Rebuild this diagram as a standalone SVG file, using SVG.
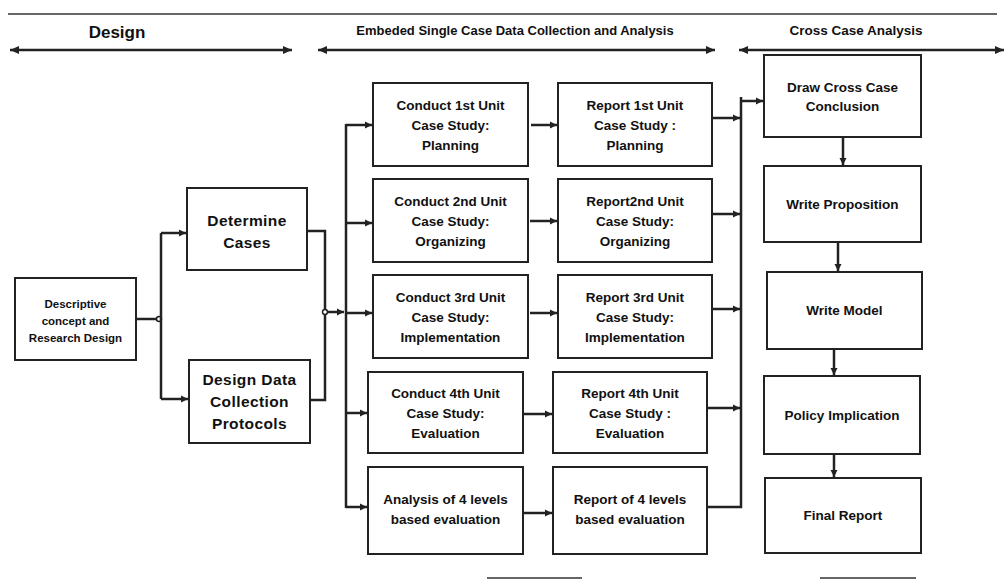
<svg xmlns="http://www.w3.org/2000/svg" width="1007" height="583" viewBox="0 0 1007 583">
<style>
.box{fill:#fff;stroke:#222;stroke-width:2}
.t{font-family:"Liberation Sans",Arial,sans-serif;font-weight:bold;fill:#111;text-anchor:middle}
.s11{font-size:11.5px}
.s15{font-size:15.5px;letter-spacing:0.4px}
.s13{font-size:13.5px}
.hd{font-family:"Liberation Sans",Arial,sans-serif;font-weight:bold;fill:#111;text-anchor:middle}
.ln{fill:none;stroke:#222;stroke-width:2.5}
.arr{fill:none;stroke:#222;stroke-width:2.5;marker-end:url(#ah)}
.harr{fill:none;stroke:#222;stroke-width:2.5;marker-start:url(#ah2);marker-end:url(#ah2)}
</style>
<defs>
<marker id="ah" markerWidth="8" markerHeight="8" refX="7" refY="4" orient="auto" markerUnits="userSpaceOnUse">
<path d="M0,0.5 L7,4 L0,7.5 z" fill="#222"/>
</marker>
<marker id="ah2" markerWidth="10" markerHeight="10" refX="9" refY="5" orient="auto-start-reverse" markerUnits="userSpaceOnUse">
<path d="M0,1 L9,5 L0,9 z" fill="#222"/>
</marker>
</defs>
<rect width="1007" height="583" fill="#fff"/>

<g id="header">
<line x1="8" y1="14" x2="997" y2="14" stroke="#333" stroke-width="1.5"/>
<text class="hd" x="117" y="38" font-size="17">Design</text>
<text class="hd" x="515" y="35" font-size="13">Embeded Single Case Data Collection and Analysis</text>
<text class="hd" x="856" y="35" font-size="13.5">Cross Case Analysis</text>
<line class="harr" x1="10" y1="50" x2="292" y2="50"/>
<line class="harr" x1="318" y1="50" x2="715" y2="50"/>
<line class="harr" x1="739" y1="50" x2="1004" y2="50"/>
</g>

<g id="n-descriptive">
<rect class="box" x="15" y="278" width="121" height="82"/>
<text class="t s11" x="75.5" y="308"><tspan x="75.5">Descriptive</tspan><tspan x="75.5" dy="17">concept and</tspan><tspan x="75.5" dy="17">Research Design</tspan></text>
</g>
<g id="n-determine">
<rect class="box" x="187" y="188" width="120" height="82"/>
<text class="t s15" x="247" y="226"><tspan x="247">Determine</tspan><tspan x="247" dy="22">Cases</tspan></text>
</g>
<g id="n-protocols">
<rect class="box" x="189" y="360" width="121" height="83"/>
<text class="t s15" x="249.5" y="385"><tspan x="249.5">Design Data</tspan><tspan x="249.5" dy="22">Collection</tspan><tspan x="249.5" dy="22">Protocols</tspan></text>
</g>

<g id="n-c1">
<rect class="box" x="373" y="83" width="155" height="83"/>
<text class="t s13" x="450.5" y="110"><tspan x="450.5">Conduct 1st Unit</tspan><tspan x="450.5" dy="20">Case Study:</tspan><tspan x="450.5" dy="20">Planning</tspan></text>
</g>
<g id="n-r1">
<rect class="box" x="558" y="83" width="154" height="83"/>
<text class="t s13" x="635" y="110"><tspan x="635">Report  1st Unit</tspan><tspan x="635" dy="20">Case Study :</tspan><tspan x="635" dy="20">Planning</tspan></text>
</g>
<g id="n-c2">
<rect class="box" x="373" y="179" width="155" height="83"/>
<text class="t s13" x="450.5" y="206"><tspan x="450.5">Conduct 2nd Unit</tspan><tspan x="450.5" dy="20">Case Study:</tspan><tspan x="450.5" dy="20">Organizing</tspan></text>
</g>
<g id="n-r2">
<rect class="box" x="558" y="179" width="154" height="83"/>
<text class="t s13" x="635" y="206"><tspan x="635">Report2nd Unit</tspan><tspan x="635" dy="20">Case Study:</tspan><tspan x="635" dy="20">Organizing</tspan></text>
</g>
<g id="n-c3">
<rect class="box" x="373" y="275" width="155" height="83"/>
<text class="t s13" x="450.5" y="302"><tspan x="450.5">Conduct 3rd Unit</tspan><tspan x="450.5" dy="20">Case Study:</tspan><tspan x="450.5" dy="20">Implementation</tspan></text>
</g>
<g id="n-r3">
<rect class="box" x="558" y="275" width="154" height="83"/>
<text class="t s13" x="635" y="302"><tspan x="635">Report 3rd Unit</tspan><tspan x="635" dy="20">Case Study:</tspan><tspan x="635" dy="20">Implementation</tspan></text>
</g>
<g id="n-c4">
<rect class="box" x="368" y="372" width="155" height="81"/>
<text class="t s13" x="445.5" y="398"><tspan x="445.5">Conduct 4th  Unit</tspan><tspan x="445.5" dy="20">Case Study:</tspan><tspan x="445.5" dy="20">Evaluation</tspan></text>
</g>
<g id="n-r4">
<rect class="box" x="553" y="372" width="154" height="81"/>
<text class="t s13" x="630" y="398"><tspan x="630">Report 4th Unit</tspan><tspan x="630" dy="20">Case Study :</tspan><tspan x="630" dy="20">Evaluation</tspan></text>
</g>
<g id="n-c5">
<rect class="box" x="368" y="467" width="155" height="87"/>
<text class="t s13" x="445.5" y="504"><tspan x="445.5">Analysis of 4 levels</tspan><tspan x="445.5" dy="20">based evaluation</tspan></text>
</g>
<g id="n-r5">
<rect class="box" x="553" y="467" width="154" height="87"/>
<text class="t s13" x="630" y="504"><tspan x="630">Report of 4 levels</tspan><tspan x="630" dy="20">based evaluation</tspan></text>
</g>

<g id="n-cross">
<rect class="box" x="764" y="55" width="157" height="82"/>
<text class="t s13" x="842.5" y="92"><tspan x="842.5">Draw Cross Case</tspan><tspan x="842.5" dy="19">Conclusion</tspan></text>
</g>
<g id="n-prop">
<rect class="box" x="764" y="166" width="157" height="76"/>
<text class="t s13" x="842.5" y="209">Write Proposition</text>
</g>
<g id="n-model">
<rect class="box" x="767" y="272" width="155" height="77"/>
<text class="t s13" x="844.5" y="315">Write Model</text>
</g>
<g id="n-policy">
<rect class="box" x="764" y="376" width="156" height="78"/>
<text class="t s13" x="842" y="420">Policy Implication</text>
</g>
<g id="n-final">
<rect class="box" x="765" y="478" width="156" height="75"/>
<text class="t s13" x="843" y="520">Final Report</text>
</g>

<g id="connectors">
<polyline class="ln" points="136,319 161,319"/>
<circle cx="159" cy="319" r="2.5" fill="#fff" stroke="#222" stroke-width="1.5"/>
<line class="ln" x1="161" y1="233" x2="161" y2="399"/>
<line class="arr" x1="161" y1="233" x2="186" y2="233"/>
<line class="arr" x1="161" y1="399" x2="188" y2="399"/>
<polyline class="ln" points="307,231 325,231 325,400 310,400"/>
<line class="arr" x1="325" y1="312" x2="344" y2="312"/>
<circle cx="325" cy="312" r="2.5" fill="#fff" stroke="#222" stroke-width="1.5"/>

<line class="ln" x1="346" y1="124" x2="346" y2="508"/>
<line class="arr" x1="346" y1="125" x2="372" y2="125"/>
<line class="arr" x1="346" y1="223" x2="372" y2="223"/>
<line class="arr" x1="346" y1="313" x2="372" y2="313"/>
<line class="arr" x1="346" y1="413" x2="367" y2="413"/>
<line class="arr" x1="346" y1="507" x2="367" y2="507"/>

<line class="arr" x1="531" y1="125" x2="557" y2="125"/>
<line class="arr" x1="530" y1="221" x2="557" y2="221"/>
<line class="arr" x1="530" y1="313" x2="557" y2="313"/>
<line class="arr" x1="524" y1="414" x2="552" y2="414"/>
<line class="arr" x1="524" y1="513" x2="552" y2="513"/>

<line class="arr" x1="712" y1="118" x2="740" y2="118"/>
<line class="arr" x1="712" y1="214" x2="740" y2="214"/>
<line class="arr" x1="712" y1="309" x2="740" y2="309"/>
<line class="arr" x1="707" y1="408" x2="740" y2="408"/>
<polyline class="ln" points="707,507 741,507 741,97"/>
<line class="arr" x1="741" y1="101" x2="763" y2="101"/>

<line class="arr" x1="843" y1="137" x2="843" y2="165"/>
<line class="arr" x1="838" y1="242" x2="838" y2="271"/>
<line class="arr" x1="834" y1="349" x2="834" y2="375"/>
<line class="arr" x1="834" y1="454" x2="834" y2="477"/>
</g>

<g id="edge-marks">
<line x1="487" y1="578" x2="582" y2="578" stroke="#333" stroke-width="1.5"/>
<line x1="820" y1="578" x2="916" y2="578" stroke="#333" stroke-width="1.5"/>
</g>
</svg>
